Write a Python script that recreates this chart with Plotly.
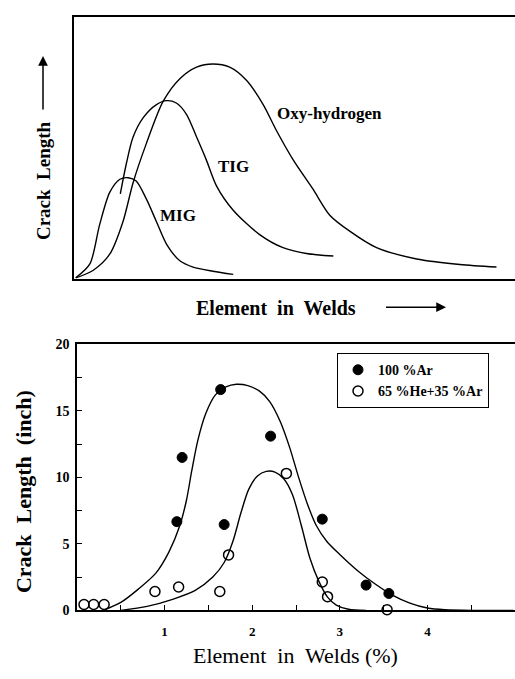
import plotly.graph_objects as go

# ---------------- Top panel (schematic curves, arbitrary units) ----------------
mig_x = [0.04, 0.36, 0.58, 0.81, 1.04, 1.23, 1.41, 1.64, 1.87, 2.10, 2.40, 2.70, 3.15, 3.61]
mig_y = [0.04, 0.57, 2.06, 3.30, 3.80, 3.86, 3.73, 3.05, 2.18, 1.32, 0.69, 0.45, 0.29, 0.17]

tig_x = [1.05, 1.19, 1.34, 1.57, 1.87, 2.10, 2.32, 2.55, 2.78, 3.00, 3.23, 3.61, 4.21, 4.74, 5.27, 5.88]
tig_y = [3.24, 4.42, 5.41, 6.15, 6.65, 6.80, 6.71, 6.28, 5.41, 4.54, 3.55, 2.62, 1.69, 1.19, 0.97, 0.87]

oxy_x = [0.04, 0.43, 0.81, 1.11, 1.34, 1.64, 2.02, 2.40, 2.78, 3.15, 3.53, 3.91, 4.29, 4.59,
         4.97, 5.42, 5.80, 6.26, 6.86, 7.77, 8.75, 9.58]
oxy_y = [0.04, 0.32, 0.94, 2.18, 3.67, 5.16, 6.77, 7.64, 8.08, 8.20, 8.08, 7.58, 6.65, 5.66,
         4.54, 3.42, 2.43, 1.81, 1.19, 0.76, 0.55, 0.45]

top_labels = ["Oxy-hydrogen", "TIG", "MIG"]
top_label_x = [5.80, 3.61, 2.36]
top_label_y = [6.30, 4.29, 2.43]

# ---------------- Bottom panel (measured data) ----------------
ar_x = [1.14, 1.20, 1.64, 1.68, 2.21, 2.80, 3.30, 3.56]
ar_y = [6.67, 11.5, 16.6, 6.45, 13.1, 6.86, 1.90, 1.27]

he_x = [0.08, 0.19, 0.31, 0.89, 1.16, 1.63, 1.73, 2.39, 2.80, 2.86, 3.54]
he_y = [0.44, 0.44, 0.44, 1.42, 1.76, 1.42, 4.17, 10.3, 2.13, 1.03, 0.05]

ar_fit_x = [0.30, 0.50, 0.70, 0.90, 1.05, 1.17, 1.25, 1.31, 1.38, 1.47, 1.58, 1.70, 1.82,
            1.95, 2.08, 2.20, 2.32, 2.43, 2.53, 2.63, 2.73, 2.85, 3.00, 3.20, 3.40, 3.60,
            3.80, 4.00, 4.20, 4.50, 4.98]
ar_fit_y = [0.0, 0.6, 1.6, 2.8, 4.4, 6.3, 8.3, 10.5, 12.8, 14.8, 16.2, 16.8, 17.0,
            16.9, 16.5, 15.7, 14.2, 12.2, 10.0, 8.0, 6.4, 5.2, 4.2, 3.0, 2.0, 1.15,
            0.55, 0.18, 0.05, 0.0, 0.0]

he_fit_x = [0.50, 0.80, 1.10, 1.35, 1.55, 1.68, 1.78, 1.87, 1.96, 2.06, 2.16, 2.26, 2.36,
            2.46, 2.56, 2.66, 2.76, 2.86, 2.96, 3.10, 3.30]
he_fit_y = [0.0, 0.3, 0.85, 1.5, 2.5, 3.6, 5.2, 7.3, 9.1, 10.1, 10.45, 10.4, 9.9,
            8.7, 6.4, 3.9, 2.2, 1.0, 0.4, 0.08, 0.0]

x_ticks = [1, 2, 3, 4]
y_ticks = [0, 5, 10, 15, 20]

FONT = "Liberation Serif"
W, H = 515, 679


def px_x(p):
    return p / W


def px_y(p):
    return 1 - p / H


fig = go.Figure()

line_style = dict(color="black", width=1.4, shape="spline", smoothing=0.8)
for xs, ys in [(mig_x, mig_y), (tig_x, tig_y), (oxy_x, oxy_y)]:
    fig.add_trace(go.Scatter(x=xs, y=ys, mode="lines", line=line_style,
                             showlegend=False, xaxis="x", yaxis="y", hoverinfo="skip"))

for t, x, y in zip(top_labels, top_label_x, top_label_y):
    fig.add_annotation(x=x, y=y, xref="x", yref="y", text=t, showarrow=False,
                       xanchor="center", yanchor="middle",
                       font=dict(family=FONT, size=17, color="black", weight="bold"))

fig.add_trace(go.Scatter(x=ar_fit_x, y=ar_fit_y, mode="lines", line=line_style,
                         showlegend=False, xaxis="x2", yaxis="y2", hoverinfo="skip"))
fig.add_trace(go.Scatter(x=he_fit_x, y=he_fit_y, mode="lines", line=line_style,
                         showlegend=False, xaxis="x2", yaxis="y2", hoverinfo="skip"))

fig.add_trace(go.Scatter(x=ar_x, y=ar_y, mode="markers", name="100 %Ar",
                         marker=dict(symbol="circle", size=10, color="black",
                                     line=dict(color="black", width=1)),
                         xaxis="x2", yaxis="y2", cliponaxis=False))
fig.add_trace(go.Scatter(x=he_x, y=he_y, mode="markers", name="65 %He+35 %Ar",
                         marker=dict(symbol="circle-open", size=10, color="black",
                                     line=dict(color="black", width=1.5)),
                         xaxis="x2", yaxis="y2", cliponaxis=False))

axis_common = dict(showgrid=False, zeroline=False, showline=True, linecolor="black")

fig.update_layout(
    width=W, height=H,
    margin=dict(l=0, r=0, t=0, b=0),
    paper_bgcolor="white", plot_bgcolor="white",
    font=dict(family=FONT, color="black"),
    xaxis=dict(**axis_common, domain=[px_x(74), 1.0], range=[0, 10], mirror=True,
               linewidth=1.8, showticklabels=False, ticks="", anchor="y"),
    yaxis=dict(**axis_common, domain=[px_y(278), px_y(10)], range=[0, 10],
               linewidth=1.5, showticklabels=False, ticks="", anchor="x"),
    xaxis2=dict(**axis_common, domain=[px_x(77), 1.0], range=[0, 5], mirror=True,
                linewidth=1.8, tickmode="array", tickvals=x_ticks,
                ticktext=[str(v) for v in x_ticks], ticks="inside", ticklen=5,
                tickcolor="black", tickwidth=1.2, ticklabelstandoff=8,
                minor=dict(dtick=0.5, tick0=0, ticks="inside", ticklen=5,
                           tickcolor="black", tickwidth=1.2),
                tickfont=dict(family=FONT, size=13, color="black", weight="bold"),
                anchor="y2"),
    yaxis2=dict(**axis_common, domain=[px_y(617), px_y(345)], range=[0, 20],
                linewidth=1.5, tickmode="array", tickvals=y_ticks,
                ticktext=[str(v) for v in y_ticks], ticks="inside", ticklen=5,
                tickcolor="black", tickwidth=1.2, ticklabelstandoff=3,
                minor=dict(dtick=2.5, tick0=0, ticks="inside", ticklen=5,
                           tickcolor="black", tickwidth=1.2),
                tickfont=dict(family=FONT, size=14, color="black", weight="bold"),
                anchor="x2"),
    legend=dict(x=px_x(337), y=px_y(354), xanchor="left", yanchor="top",
                bordercolor="black", borderwidth=1, bgcolor="white",
                itemwidth=30, tracegroupgap=0,
                font=dict(family=FONT, size=14, color="black", weight="bold")),
    showlegend=True,
)

# Axis titles (top panel) with arrows
fig.add_annotation(x=px_x(43), y=px_y(178), xref="paper", yref="paper",
                   text="Crack  Length", textangle=-90, showarrow=False,
                   xanchor="center", yanchor="middle",
                   font=dict(family=FONT, size=19, color="black", weight="bold"))
fig.add_annotation(x=px_x(43), y=px_y(50), xref="paper", yref="paper", text=" ",
                   showarrow=True, ax=0, ay=62, arrowhead=2, arrowsize=1.3,
                   arrowwidth=1.5, arrowcolor="black")
fig.add_annotation(x=px_x(276), y=px_y(308), xref="paper", yref="paper",
                   text="Element  in  Welds", showarrow=False,
                   xanchor="center", yanchor="middle",
                   font=dict(family=FONT, size=20, color="black", weight="bold"))
fig.add_annotation(x=px_x(446), y=px_y(307), xref="paper", yref="paper", text=" ",
                   showarrow=True, ax=-63, ay=0, arrowhead=2, arrowsize=1.3,
                   arrowwidth=1.5, arrowcolor="black")

# Axis titles (bottom panel)
fig.add_annotation(x=px_x(23), y=px_y(496), xref="paper", yref="paper",
                   text="Crack  Length  (inch)", textangle=-90, showarrow=False,
                   xanchor="center", yanchor="middle",
                   font=dict(family=FONT, size=22, color="black", weight="bold"))
fig.add_annotation(x=px_x(296), y=px_y(663), xref="paper", yref="paper",
                   text="Element  in  Welds (%)", showarrow=False,
                   xanchor="center", yanchor="middle",
                   font=dict(family=FONT, size=22, color="black"))

fig.write_html("out.html")
